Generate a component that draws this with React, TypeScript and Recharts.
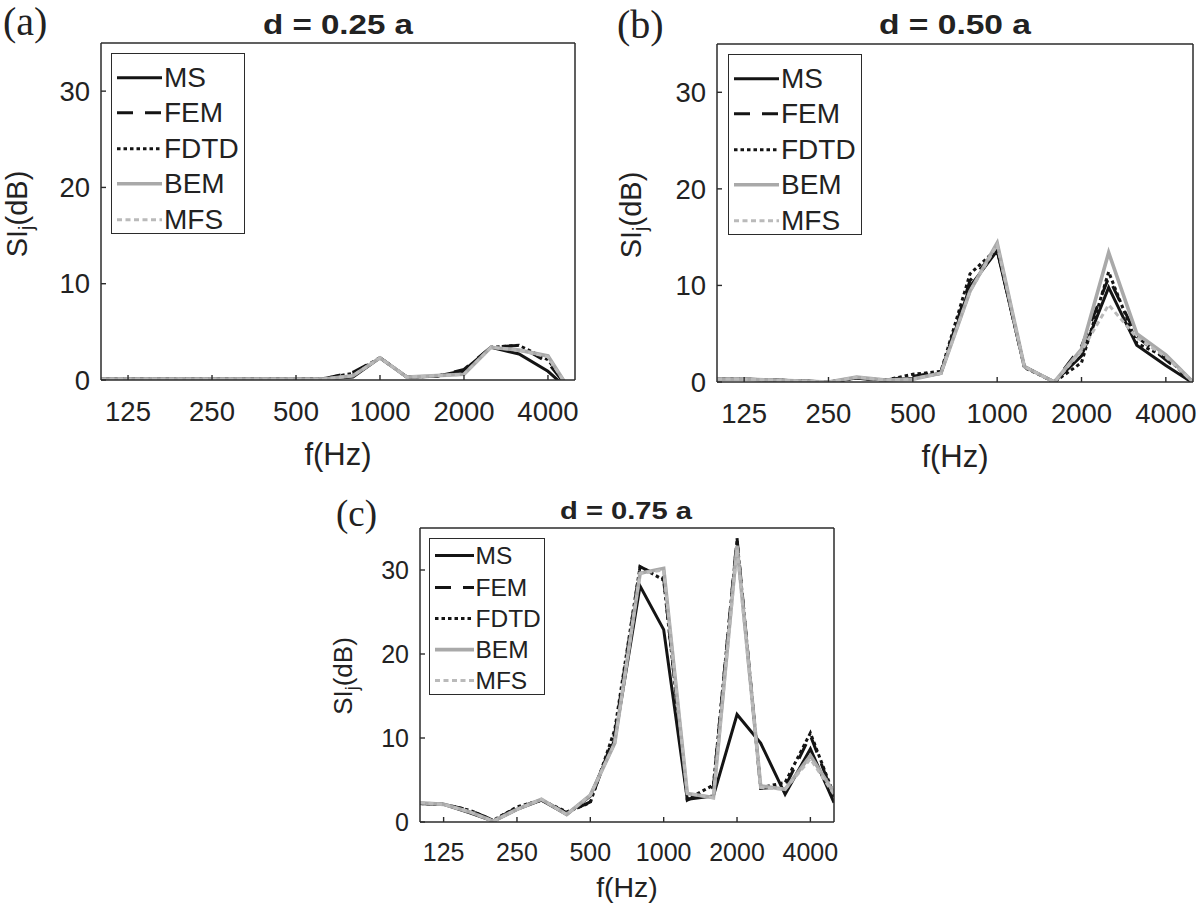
import React from 'react';
import { LineChart, Line, XAxis, YAxis, Legend } from 'recharts';

// ---- data ----
const FREQS = [100, 125, 160, 200, 250, 315, 400, 500, 630, 800, 1000, 1250, 1600, 2000, 2500, 3150, 4000, 5000];
const X_TICKS = [125, 250, 500, 1000, 2000, 4000];
const Y_TICKS = [0, 10, 20, 30];
const SERIES_NAMES = ['MS', 'FEM', 'FDTD', 'BEM', 'MFS'];

const A_MS = [0.1, 0.1, 0.1, 0.1, 0.1, 0.1, 0.1, 0.1, 0.1, 0.3, 2.3, 0.3, 0.4, 1.0, 3.4, 2.7, 0.9, -1.6];
const A_FEM = [0.1, 0.1, 0.1, 0.1, 0.1, 0.1, 0.1, 0.1, 0.15, 0.8, 2.3, 0.3, 0.4, 1.1, 3.4, 3.6, 1.8, -1.7];
const A_FDTD = [0.1, 0.1, 0.1, 0.1, 0.1, 0.1, 0.1, 0.1, 0.15, 0.7, 2.3, 0.3, 0.4, 0.8, 3.4, 3.6, 2.1, -1.7];
const A_BEM = [0.1, 0.1, 0.1, 0.1, 0.1, 0.1, 0.1, 0.1, 0.1, 0.45, 2.3, 0.3, 0.45, 0.6, 3.4, 3.1, 2.5, -1.9];
const A_MFS = [0.1, 0.1, 0.1, 0.1, 0.1, 0.1, 0.1, 0.1, 0.1, 0.45, 2.3, 0.3, 0.45, 0.6, 3.4, 3.1, 2.4, -1.9];

const B_MS = [0.3, 0.3, 0.2, 0.1, 0.0, 0.4, 0.2, 0.4, 0.9, 9.9, 13.6, 1.6, 0.0, 2.7, 9.8, 3.8, 1.7, -0.1];
const B_FEM = [0.3, 0.3, 0.2, 0.1, 0.0, 0.4, 0.2, 0.6, 1.0, 10.5, 13.7, 1.6, 0.0, 3.7, 10.8, 4.7, 2.3, 0.0];
const B_FDTD = [0.3, 0.3, 0.2, 0.1, 0.0, 0.4, 0.2, 0.8, 1.1, 11.2, 13.8, 1.5, 0.0, 2.0, 11.4, 4.0, 2.6, 0.0];
const B_BEM = [0.3, 0.3, 0.2, 0.1, 0.0, 0.5, 0.2, 0.3, 0.9, 9.4, 14.4, 1.6, 0.0, 3.4, 13.4, 5.0, 2.8, 0.0];
const B_MFS = [0.3, 0.3, 0.2, 0.1, 0.0, 0.5, 0.2, 0.3, 0.9, 9.4, 14.2, 1.6, 0.0, 3.2, 8.0, 4.6, 2.6, 0.0];

const C_MS = [2.2, 2.1, 1.1, 0.1, 1.5, 2.6, 0.9, 3.1, 9.8, 28.1, 22.9, 2.7, 3.1, 12.8, 9.4, 3.3, 8.7, 2.3];
const C_FEM = [2.2, 2.1, 1.4, 0.2, 1.7, 2.6, 1.1, 2.4, 10.5, 30.4, 29.0, 2.6, 4.2, 33.8, 4.0, 4.2, 10.3, 3.0];
const C_FDTD = [2.2, 2.1, 1.4, 0.2, 1.8, 2.6, 1.2, 2.3, 11.0, 30.4, 28.8, 2.7, 4.4, 33.6, 4.1, 4.7, 10.6, 3.2];
const C_BEM = [2.3, 2.1, 1.2, 0.1, 1.5, 2.7, 0.9, 3.2, 9.4, 29.6, 30.2, 3.4, 2.9, 32.9, 4.3, 3.9, 7.9, 3.5];
const C_MFS = [2.3, 2.1, 1.2, 0.1, 1.5, 2.7, 0.9, 3.2, 9.4, 29.6, 30.0, 3.4, 2.9, 32.5, 4.1, 3.9, 7.5, 3.3];

const TITLES = ['d = 0.25 a', 'd = 0.50 a', 'd = 0.75 a'];
const LETTERS = ['(a)', '(b)', '(c)'];

// ---- styles ----
const FONT = '"Liberation Sans", Arial, Helvetica, sans-serif';
const SERIF = '"Liberation Serif", "Times New Roman", serif';
const AXIS = '#2b2b2b';
const TEXT = '#222';

const STYLE: Record<string, { stroke: string; width: number; dash?: string }> = {
  MS: { stroke: '#141414', width: 3, dash: undefined },
  FEM: { stroke: '#141414', width: 3, dash: '16 12' },
  FDTD: { stroke: '#141414', width: 3, dash: '3.5 3' },
  BEM: { stroke: '#a9a9a9', width: 3.6, dash: undefined },
  MFS: { stroke: '#bababa', width: 3, dash: '5 3.5' },
};

function buildTable(ms: number[], fem: number[], fdtd: number[], bem: number[], mfs: number[]) {
  return FREQS.map((f, i) => ({ f, MS: ms[i], FEM: fem[i], FDTD: fdtd[i], BEM: bem[i], MFS: mfs[i] }));
}

const TABLE_A = buildTable(A_MS, A_FEM, A_FDTD, A_BEM, A_MFS);
const TABLE_B = buildTable(B_MS, B_FEM, B_FDTD, B_BEM, B_MFS);
const TABLE_C = buildTable(C_MS, C_FEM, C_FDTD, C_BEM, C_MFS);

type LegendGeom = { left: number; top: number; w: number; h: number; firstRow: number; rowH: number; x0: number; x1: number; tx: number; font: number };
type PanelGeom = { plotLeft: number; plotTop: number; plotW: number; plotH: number; tickFont: number; legend: LegendGeom };

const ML = 100, MT = 10, MR = 6, MB = 72;

const GEOM: PanelGeom[] = [
  {
    plotLeft: 101, plotTop: 43, plotW: 474, plotH: 337, tickFont: 27.5,
    legend: { left: 111, top: 53, w: 134, h: 181, firstRow: 23.7, rowH: 35.4, x0: 5, x1: 50, tx: 52, font: 28 },
  },
  {
    plotLeft: 717, plotTop: 44, plotW: 476, plotH: 338, tickFont: 27.5,
    legend: { left: 728, top: 54, w: 134, h: 181, firstRow: 23.7, rowH: 35.4, x0: 5, x1: 50, tx: 52, font: 28 },
  },
  {
    plotLeft: 420, plotTop: 528, plotW: 414, plotH: 294, tickFont: 25,
    legend: { left: 429, top: 538, w: 116, h: 157, firstRow: 17, rowH: 31.2, x0: 5, x1: 44, tx: 45.5, font: 24.5 },
  },
];

function makeLegend(lg: LegendGeom) {
  return (props: any) => {
    const payload: any[] = props.payload || [];
    const names = SERIES_NAMES.filter((n) => payload.some((p) => p.value === n));
    return (
      <div
        style={{
          width: lg.w,
          height: lg.h,
          border: `1.5px solid ${AXIS}`,
          background: '#fff',
          boxSizing: 'border-box',
          position: 'relative',
          fontFamily: FONT,
        }}
      >
        {names.map((name, i) => {
          const st = STYLE[name];
          const cy = lg.firstRow + i * lg.rowH;
          return (
            <div key={name} style={{ position: 'absolute', left: 0, top: cy - lg.rowH / 2, height: lg.rowH, width: '100%' }}>
              <svg style={{ position: 'absolute', left: lg.x0, top: 0 }} width={lg.x1 - lg.x0} height={lg.rowH}>
                <line x1={0} x2={lg.x1 - lg.x0} y1={lg.rowH / 2} y2={lg.rowH / 2} stroke={st.stroke} strokeWidth={st.width} strokeDasharray={st.dash} />
              </svg>
              <span style={{ position: 'absolute', left: lg.tx, top: 0, lineHeight: `${lg.rowH}px`, fontSize: lg.font, color: TEXT, whiteSpace: 'nowrap' }}>
                {name}
              </span>
            </div>
          );
        })}
      </div>
    );
  };
}

function Panel({ data, g }: { data: any[]; g: PanelGeom }) {
  const chartLeft = g.plotLeft - ML;
  const chartTop = g.plotTop - MT;
  const W = g.plotW + ML + MR;
  const H = g.plotH + MT + MB;
  const tickStyle = { fontSize: g.tickFont, fill: TEXT, fontFamily: FONT };
  const axisLine = { stroke: AXIS, strokeWidth: 1.5 };
  const tickLine = { stroke: AXIS, strokeWidth: 1.4 };
  return (
    <div style={{ position: 'absolute', left: chartLeft, top: chartTop, width: W, height: H }}>
      <LineChart width={W} height={H} data={data} margin={{ top: MT - 5, right: MR - 5, left: ML - 60, bottom: MB - 40 }}>
        <XAxis
          dataKey="f"
          type="number"
          scale="log"
          domain={[100, 5000]}
          allowDataOverflow
          ticks={X_TICKS}
          height={40}
          tick={tickStyle}
          tickSize={-5}
          tickMargin={26}
          axisLine={axisLine}
          tickLine={tickLine}
        />
        <XAxis
          xAxisId="top"
          orientation="top"
          dataKey="f"
          type="number"
          scale="log"
          domain={[100, 5000]}
          allowDataOverflow
          ticks={X_TICKS}
          height={5}
          tick={false}
          tickSize={-5}
          axisLine={axisLine}
          tickLine={tickLine}
        />
        <YAxis
          type="number"
          domain={[0, 35]}
          allowDataOverflow
          ticks={Y_TICKS}
          width={60}
          tick={tickStyle}
          tickSize={-5}
          tickMargin={16}
          axisLine={axisLine}
          tickLine={tickLine}
        />
        <YAxis
          yAxisId="right"
          orientation="right"
          type="number"
          domain={[0, 35]}
          allowDataOverflow
          ticks={Y_TICKS}
          width={5}
          tick={false}
          tickSize={-5}
          axisLine={axisLine}
          tickLine={tickLine}
        />
        {SERIES_NAMES.map((name) => (
          <Line
            key={name}
            type="linear"
            dataKey={name}
            name={name}
            stroke={STYLE[name].stroke}
            strokeWidth={STYLE[name].width}
            strokeDasharray={STYLE[name].dash}
            dot={false}
            activeDot={false}
            isAnimationActive={false}
            strokeLinejoin="miter"
          />
        ))}
        <Legend
          layout="vertical"
          align="center"
          verticalAlign="middle"
          content={makeLegend(g.legend)}
          wrapperStyle={{ left: g.legend.left - chartLeft, top: g.legend.top - chartTop, width: g.legend.w, height: g.legend.h, margin: 0 }}
        />
      </LineChart>
    </div>
  );
}

function YLabel({ x, y, size }: { x: number; y: number; size: number }) {
  return (
    <text x={x} y={y} transform={`rotate(-90, ${x}, ${y})`} textAnchor="middle" fontFamily={FONT} fontSize={size} fill={TEXT}>
      SI
      <tspan fontSize={size * 0.68} dy={size * 0.22}>j</tspan>
      <tspan dy={-size * 0.22}>(dB)</tspan>
    </text>
  );
}

export default function App() {
  return (
    <div style={{ position: 'absolute', left: 0, top: 0, width: 1200, height: 903, overflow: 'hidden', background: '#fff' }}>
      <Panel data={TABLE_A} g={GEOM[0]} />
      <Panel data={TABLE_B} g={GEOM[1]} />
      <Panel data={TABLE_C} g={GEOM[2]} />
      <svg width={1200} height={903} style={{ position: 'absolute', left: 0, top: 0, pointerEvents: 'none' }}>
        {/* panel letters */}
        <text x={3} y={35} fontFamily={SERIF} fontSize={40} fill={TEXT}>{LETTERS[0]}</text>
        <text x={617} y={38} fontFamily={SERIF} fontSize={40} fill={TEXT}>{LETTERS[1]}</text>
        <text x={336} y={526} fontFamily={SERIF} fontSize={37} fill={TEXT}>{LETTERS[2]}</text>
        {/* titles */}
        <text x={338} y={33.5} textAnchor="middle" fontFamily={FONT} fontWeight="bold" fontSize={28} fill={TEXT} textLength={150} lengthAdjust="spacingAndGlyphs">{TITLES[0]}</text>
        <text x={955} y={33.5} textAnchor="middle" fontFamily={FONT} fontWeight="bold" fontSize={28} fill={TEXT} textLength={152} lengthAdjust="spacingAndGlyphs">{TITLES[1]}</text>
        <text x={626} y={518.5} textAnchor="middle" fontFamily={FONT} fontWeight="bold" fontSize={24} fill={TEXT} textLength={132} lengthAdjust="spacingAndGlyphs">{TITLES[2]}</text>
        {/* x labels */}
        <text x={338} y={465} textAnchor="middle" fontFamily={FONT} fontSize={31} fill={TEXT}>f(Hz)</text>
        <text x={955} y={467} textAnchor="middle" fontFamily={FONT} fontSize={31} fill={TEXT}>f(Hz)</text>
        <text x={627} y={897} textAnchor="middle" fontFamily={FONT} fontSize={28.5} fill={TEXT}>f(Hz)</text>
        {/* y labels */}
        <YLabel x={27} y={214} size={29} />
        <YLabel x={641} y={215} size={29} />
        <YLabel x={352} y={676} size={26} />
      </svg>
    </div>
  );
}
